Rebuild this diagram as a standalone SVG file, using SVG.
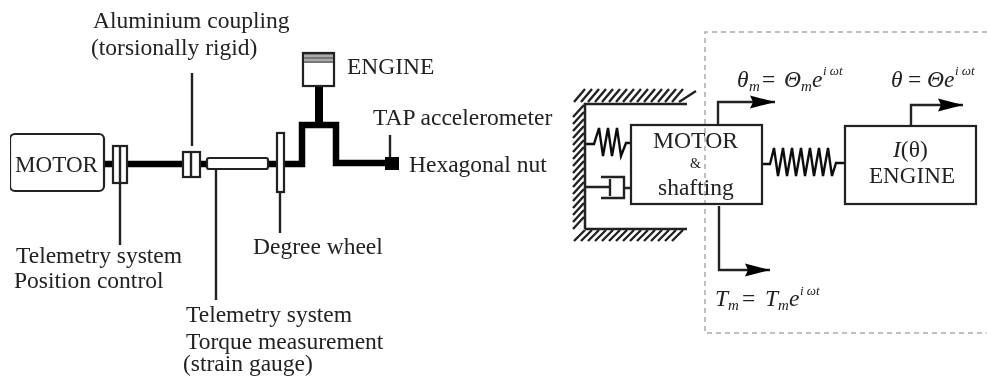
<svg xmlns="http://www.w3.org/2000/svg" width="987" height="376" viewBox="0 0 987 376">
<style>
text{font-family:"Liberation Serif","Times New Roman",serif;font-size:23.5px;fill:#222}
.it{font-style:italic}
.sub{font-style:italic;font-size:15px}
.sup{font-style:italic;font-size:13px}
.box{fill:#fff;stroke:#222;stroke-width:2.2}
.thin{fill:none;stroke:#222;stroke-width:2.4}
.thick{fill:none;stroke:#000;stroke-width:6.5;stroke-linejoin:miter}
.spring{fill:none;stroke:#111;stroke-width:2.4;stroke-linejoin:miter}
.hatch{fill:none;stroke:#222;stroke-width:2.4}
.dash{fill:none;stroke:#aaa;stroke-width:1.5;stroke-dasharray:5 4}
</style>
<defs>
<marker id="head" markerUnits="userSpaceOnUse" markerWidth="26" markerHeight="14" refX="25" refY="7" orient="auto"><path d="M0 0.5L25 7L0 13.5L3 7Z" fill="#000"/></marker>
<filter id="soft" x="0" y="0" width="1" height="1"><feGaussianBlur stdDeviation="0.45"/></filter>
</defs>
<rect width="987" height="376" fill="#fff"/>
<g filter="url(#soft)">
<g id="frame"><path class="dash" d="M987 32H705V333H987"/></g>
<g id="connectors">
<path class="thick" d="M104 164H183M200 164H207M268 164H277M284 164H302V125H336V163H386"/>
<path class="thick" style="stroke-width:8" d="M319 86V125"/>
<path class="thin" d="M192 73V146M120 183V245M216 170V300M280 192V233M390 135V157"/>
<path class="thin" marker-end="url(#head)" d="M718 125V102H775"/>
<path class="thin" marker-end="url(#head)" d="M911 126V105H963"/>
<path class="thin" marker-end="url(#head)" d="M719 206V270H770"/>
<path class="spring" d="M585 144H594L599 128L603 156L608 128L612 156L617 128L621 156L626 143H631"/>
<path class="spring" d="M762 164H770L774 148L778 176L783 148L787 176L792 148L796 176L801 148L805 176L810 148L814 176L819 148L823 176L828 148L832 176L836 163H845"/>
<path class="thin" d="M585 187H610M610 179V196M601 177H624V198H601M624 188H631"/>
</g>
<g id="motor-left"><rect class="box" x="10" y="134" width="94" height="57" rx="5"/><text x="15" y="172" textLength="83" lengthAdjust="spacingAndGlyphs">MOTOR</text></g>
<g id="telemetry-flange"><rect class="box" x="113" y="146" width="14" height="37"/><path class="thin" d="M120 146V183"/></g>
<g id="coupling"><rect class="box" x="183" y="152" width="17" height="25"/><path class="thin" d="M191 152V177"/></g>
<g id="strain-gauge"><rect class="box" x="207" y="158" width="61" height="11" rx="2"/></g>
<g id="degree-wheel"><rect class="box" x="277" y="133" width="7" height="59"/></g>
<g id="engine-piston"><rect class="box" x="303" y="53" width="31" height="33"/><rect x="304" y="54" width="29" height="9" fill="#777"/><path d="M304 56H333M304 60H333" stroke="#ddd" stroke-width="1"/></g>
<g id="hex-nut"><rect x="385" y="157" width="14" height="13" fill="#000"/></g>
<g id="labels-left">
<text x="93" y="28">Aluminium coupling</text>
<text x="91" y="55">(torsionally rigid)</text>
<text x="347" y="74">ENGINE</text>
<text x="373" y="125">TAP accelerometer</text>
<text x="409" y="172">Hexagonal nut</text>
<text x="16" y="263">Telemetry system</text>
<text x="14" y="288">Position control</text>
<text x="253" y="254">Degree wheel</text>
<text x="186" y="322">Telemetry system</text>
<text x="186" y="349">Torque measurement</text>
<text x="183" y="371">(strain gauge)</text>
</g>
<g id="wall">
<path d="M585 229V104H687M585 229H687" fill="none" stroke="#222" stroke-width="2.5"/>
<path class="hatch" d="M574 102L585 89M581 102L592 89M588 102L599 89M595 102L606 89M602 102L613 89M609 102L620 89M616 102L627 89M623 102L634 89M630 102L641 89M637 102L648 89M644 102L655 89M651 102L662 89M658 102L669 89M665 102L676 89M672 102L683 89M679 102L696 91"/>
<path class="hatch" d="M573 117L584 105M573 124L584 112M573 131L584 119M573 138L584 126M573 145L584 133M573 152L584 140M573 159L584 147M573 166L584 154M573 173L584 161M573 180L584 168M573 187L584 175M573 194L584 182M573 201L584 189M573 208L584 196M573 215L584 203M573 222L584 210M573 229L584 217"/>
<path class="hatch" d="M574 241L585 230M581 241L592 230M588 241L599 230M595 241L606 230M602 241L613 230M609 241L620 230M616 241L627 230M623 241L634 230M630 241L641 230M637 241L648 230M644 241L655 230M651 241L662 230M658 241L669 230M665 241L676 230M672 241L683 230"/>
</g>
<g id="motor-shafting"><rect class="box" x="631" y="125" width="131" height="79" style="fill:none"/>
<text x="653" y="148" textLength="85" lengthAdjust="spacingAndGlyphs">MOTOR</text>
<text x="690" y="168" style="font-size:14px">&amp;</text>
<text x="658" y="195">shafting</text></g>
<g id="engine-box"><rect class="box" x="845" y="126" width="131" height="78"/>
<text x="893" y="157"><tspan class="it">I</tspan>(θ)</text>
<text x="869" y="183" textLength="86" lengthAdjust="spacingAndGlyphs">ENGINE</text></g>
<g id="equations">
<text y="87"><tspan class="it" x="737">θ</tspan><tspan class="sub" x="749" dy="4">m</tspan><tspan x="762" dy="-4">=</tspan><tspan class="it" x="784">Θ</tspan><tspan class="sub" x="801" dy="4">m</tspan><tspan class="it" x="812" dy="-4">e</tspan><tspan class="sup" x="823" dy="-12">i ωt</tspan></text>
<text y="87"><tspan class="it" x="891">θ</tspan><tspan x="908">=</tspan><tspan class="it" x="927">Θ</tspan><tspan class="it" x="944">e</tspan><tspan class="sup" x="955" dy="-12">i ωt</tspan></text>
<text y="306"><tspan class="it" x="715">T</tspan><tspan class="sub" x="728" dy="4">m</tspan><tspan x="742" dy="-4">=</tspan><tspan class="it" x="765">T</tspan><tspan class="sub" x="778" dy="4">m</tspan><tspan class="it" x="789" dy="-4">e</tspan><tspan class="sup" x="800" dy="-11">i ωt</tspan></text>
</g>
</g>
</svg>
